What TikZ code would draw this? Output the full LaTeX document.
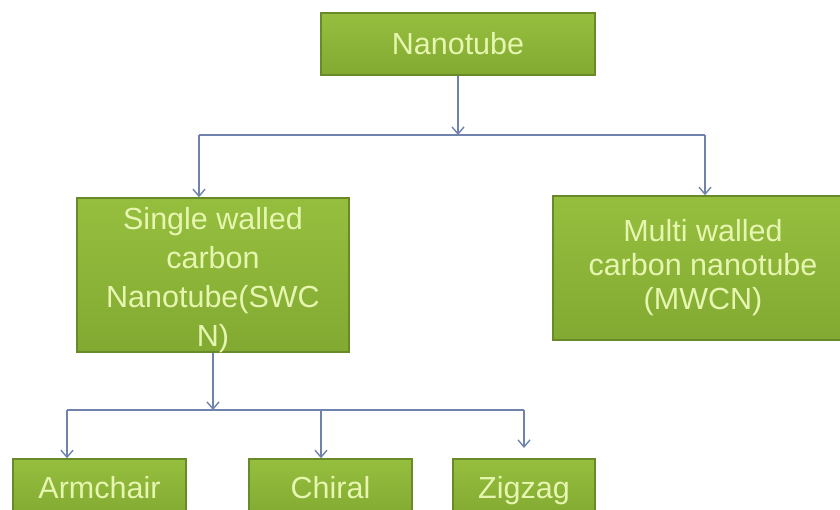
\documentclass[tikz,border=0pt]{standalone}
\usepackage{fontspec}
\setmainfont{Liberation Sans}
\usetikzlibrary{arrows.meta}

\definecolor{boxtop}{RGB}{150,190,62}
\definecolor{boxbottom}{RGB}{130,170,50}
\definecolor{boxline}{RGB}{104,138,40}
\definecolor{boxtext}{RGB}{230,246,176}
\definecolor{linkblue}{RGB}{112,131,173}

\tikzset{
  greenbox/.style={draw=boxline, line width=1.5pt, top color=boxtop, bottom color=boxbottom,
    text=boxtext, align=center, inner sep=0pt},
  leafbox/.style={greenbox, minimum height=57pt, text height=22pt, text depth=0pt,
    font=\fontsize{30.5}{39}\selectfont},
  link/.style={draw=linkblue, line width=1.4pt},
  linkarrow/.style={link, -{Straight Barb[length=7pt,width=12pt]}}
}

\begin{document}
\begin{tikzpicture}[x=1pt, y=-1pt]
  \useasboundingbox (0,0) rectangle (840,509);
  \clip (0,0) rectangle (840,509);

  \node[greenbox, minimum width=274pt, minimum height=62pt, font=\fontsize{30.5}{39}\selectfont]
    (nano) at (458,44) {Nanotube};
  \node[greenbox, minimum width=272pt, minimum height=154pt, font=\fontsize{30.5}{39}\selectfont]
    (swcn) at (213,275) {\raisebox{-5pt}[\height][\depth]{\parbox{260pt}{\centering Single walled\\carbon\\Nanotube(SWC\\N)}}};
  \node[greenbox, minimum width=300pt, minimum height=144pt, font=\fontsize{30.5}{34}\selectfont]
    (mwcn) at (703,268) {Multi walled\\carbon nanotube\\(MWCN)};

  \node[leafbox, minimum width=173pt] (arm) at (99.5,487.5) {Armchair};
  \node[leafbox, minimum width=163pt] (chi) at (330.5,487.5) {Chiral};
  \node[leafbox, minimum width=142pt] (zig) at (524,487.5) {Zigzag};

  % upper level
  \coordinate (topbus) at (458,135);
  \coordinate (busleft) at (199,135);
  \coordinate (busright) at (705,135);
  \draw[linkarrow] (nano.south) -- (topbus);
  \draw[link] (busleft) -- (busright);
  \draw[linkarrow] (busleft) -- (busleft |- swcn.north);
  \draw[linkarrow] (busright) -- (busright |- mwcn.north);

  % lower level
  \coordinate (lowbus) at (213,410);
  \coordinate (armbus) at (67,410);
  \coordinate (chibus) at (321,410);
  \coordinate (zigbus) at (524,410);
  \coordinate (zigend) at (524,448);
  \draw[linkarrow] (swcn.south) -- (lowbus);
  \draw[link] (armbus) -- (zigbus);
  \draw[linkarrow] (armbus) -- (armbus |- arm.north);
  \draw[linkarrow] (chibus) -- (chibus |- chi.north);
  \draw[linkarrow] (zigbus) -- (zigend);
\end{tikzpicture}
\end{document}
